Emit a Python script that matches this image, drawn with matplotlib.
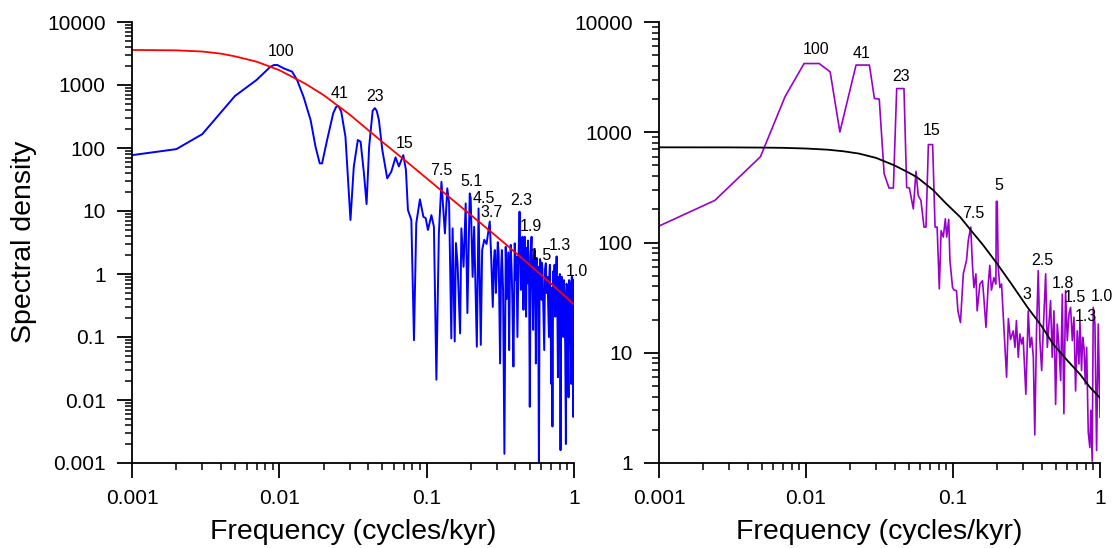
import matplotlib
matplotlib.use('Agg')
import matplotlib.pyplot as plt
from matplotlib.ticker import LogLocator, NullFormatter

plt.rcParams['font.family'] = ['Liberation Sans', 'DejaVu Sans']

# ******************************************************************************
# data
# ******************************************************************************
# left panel: spectrum (blue), low/mid part and noisy high-frequency part
blue_f_low = [0.001, 0.002, 0.003, 0.005, 0.007, 0.0087, 0.0092, 0.0097, 0.0107, 0.0122,
              0.0132, 0.0146, 0.0163, 0.0176, 0.0188, 0.0195, 0.0211, 0.0232, 0.0243, 0.0252,
              0.0263, 0.0281, 0.0293, 0.0304, 0.032, 0.0341, 0.0356, 0.0375, 0.0391, 0.0407,
              0.043, 0.0445, 0.0458, 0.0474, 0.05, 0.054, 0.0575, 0.0615, 0.0648, 0.0694,
              0.0723, 0.0746, 0.0787, 0.082, 0.085, 0.09, 0.095, 0.0985, 0.102, 0.1077,
              0.112, 0.1164, 0.121, 0.126, 0.133, 0.138, 0.142, 0.147, 0.150, 0.155,
              0.158, 0.162, 0.1686, 0.172, 0.178, 0.184, 0.189, 0.196, 0.199, 0.205,
              0.21, 0.219, 0.225, 0.233, 0.238, 0.246, 0.255, 0.268, 0.274]
blue_v_low = [77, 96, 166, 670, 1200, 1950, 2075, 2075, 1840, 1630,
              1200, 650, 278, 105, 57, 57, 134, 355, 450, 464,
              380, 151, 31, 7.2, 50, 134, 126, 40, 12.9, 105,
              390, 430, 390, 278, 93, 33, 42, 71, 51, 77,
              45, 10.4, 7.2, 0.089, 6.4, 15.3, 8.1, 7.7, 5.0, 8.6,
              5.6, 0.021, 4.4, 29, 4.4, 22.9, 13.2, 0.095, 5.3, 0.085,
              3.1, 1.48, 0.114, 5.3, 1.3, 13.2, 0.24, 19, 16, 0.9,
              5.6, 0.07, 11, 0.075, 2.4, 3.5, 3.0, 6.8, 1.9]

blue_f_high = [0.281, 0.286, 0.290, 0.295, 0.299, 0.304, 0.308, 0.315, 0.320, 0.324,
               0.330, 0.337, 0.344, 0.349, 0.353, 0.358, 0.363, 0.368, 0.372, 0.378,
               0.382, 0.388, 0.396, 0.402, 0.407, 0.413, 0.420, 0.427, 0.431, 0.436,
               0.441, 0.447, 0.454, 0.458, 0.463, 0.468, 0.473, 0.478, 0.483, 0.487,
               0.491, 0.496, 0.501, 0.508, 0.515, 0.521, 0.528, 0.534, 0.540, 0.546,
               0.551, 0.558, 0.565, 0.571, 0.578, 0.584, 0.590, 0.596, 0.602, 0.606,
               0.611, 0.619, 0.628, 0.636, 0.644, 0.652, 0.661, 0.668, 0.676, 0.681,
               0.686, 0.693, 0.700, 0.707, 0.714, 0.722, 0.730, 0.738, 0.746, 0.754,
               0.762, 0.770, 0.778, 0.786, 0.794, 0.802, 0.810, 0.818, 0.827, 0.836,
               0.845, 0.854, 0.863, 0.872, 0.881, 0.890, 0.899, 0.908, 0.918, 0.927,
               0.937, 0.947, 0.957, 0.965, 0.972, 0.980, 0.988, 0.994, 1.0]
blue_v_high = [0.30, 1.6, 2.4, 0.5, 1.3, 3.2, 2.1, 0.038, 1.2, 2.4,
               0.56, 0.0014, 2.7, 0.4, 0.9, 2.2, 0.062, 1.5, 2.9, 1.0,
               0.34, 0.034, 3.07, 0.8, 1.9, 0.1, 1.7, 9.75, 2.5, 0.56,
               2.0, 3.9, 0.27, 2.2, 3.9, 1.2, 0.21, 2.6, 0.71, 3.4,
               1.9, 0.6, 0.0078, 2.0, 3.9, 0.9, 0.13, 1.5, 2.4, 0.7,
               0.038, 1.8, 0.56, 1.3, 0.0006, 0.8, 1.67, 0.6, 0.39, 1.5,
               1.16, 0.3, 0.062, 1.2, 1.48, 0.5, 0.9, 0.3, 0.1, 1.0,
               1.4, 0.3, 0.018, 0.6, 0.0038, 1.1, 0.71, 1.4, 0.21, 0.8,
               1.9, 0.4, 0.023, 0.9, 0.165, 1.0, 0.0016, 0.5, 0.9, 0.2,
               0.1, 0.8, 0.49, 0.06, 0.002, 0.7, 0.63, 0.1, 0.011, 0.8,
               0.71, 0.2, 0.018, 0.9, 0.9, 0.3, 0.0054, 0.8, 0.3]

# left panel: red-noise fit
red_f = [0.001, 0.002, 0.003, 0.004, 0.005, 0.007, 0.01, 0.015, 0.02, 0.03,
         0.05, 0.07, 0.1, 0.15, 0.2, 0.3, 0.5, 0.7, 1.0]
red_v = [3600, 3550, 3400, 3150, 2850, 2350, 1720, 1050, 690, 340,
         125, 66, 33, 15, 8.6, 3.9, 1.4, 0.7, 0.33]

left_lab = ['100', '41', '23', '15', '7.5', '5.1', '4.5', '3.7', '2.3', '1.9', '1.5', '1.3', '1.0']
left_lab_f = [0.0102, 0.0257, 0.0443, 0.0708, 0.126, 0.201, 0.243, 0.275, 0.441, 0.51, 0.597, 0.807, 1.04]
left_lab_v = [3380, 738, 653, 118, 43.6, 29, 15.9, 9.4, 14.6, 5.6, 2.0, 2.8, 1.08]

# right panel: spectrum (purple) and fit (black)
purple_f = [0.001, 0.0024, 0.0049, 0.0072, 0.0097, 0.0123, 0.0146, 0.017, 0.0219, 0.027,
            0.0292, 0.0315, 0.034, 0.0367, 0.0393, 0.0414, 0.0464, 0.0484, 0.0505, 0.0537,
            0.056, 0.058, 0.0605, 0.0635, 0.0655, 0.068, 0.0727, 0.0755, 0.078, 0.0807,
            0.083, 0.0859, 0.0887, 0.0906, 0.0935, 0.0953, 0.0993, 0.1019, 0.1056, 0.108,
            0.1124, 0.1175, 0.1236, 0.127, 0.132, 0.1355, 0.1387, 0.1431, 0.146, 0.1524,
            0.1587, 0.162, 0.1676, 0.1737, 0.178, 0.1826, 0.1896, 0.1958, 0.197, 0.2,
            0.203, 0.2085, 0.214, 0.22, 0.227, 0.2315, 0.238, 0.246, 0.257, 0.264,
            0.27, 0.278, 0.285, 0.293, 0.3, 0.313, 0.325, 0.334, 0.343, 0.352,
            0.36, 0.37, 0.38, 0.39, 0.401, 0.411, 0.427, 0.438, 0.449, 0.461,
            0.473, 0.486, 0.499, 0.512, 0.526, 0.54, 0.554, 0.568, 0.583, 0.599,
            0.615, 0.631, 0.648, 0.665, 0.682, 0.7, 0.719, 0.73, 0.749, 0.762,
            0.778, 0.794, 0.811, 0.832, 0.853, 0.866, 0.885, 0.9, 0.924, 0.948,
            0.973, 1.0]
purple_v = [141, 241, 600, 2100, 4200, 4200, 3530, 1006, 4070, 4070,
            2025, 2000, 421, 312, 312, 2490, 2490, 316, 312, 202,
            442, 267, 241, 138, 138, 773, 773, 138, 138, 38,
            128, 112, 164, 112, 162, 69, 39, 37, 36.6, 24,
            18.8, 52, 69, 104, 138, 64, 39, 52, 24, 42,
            45, 32, 17, 42, 62, 37, 48, 42, 236, 236,
            60, 39, 42, 21, 9.7, 6.0, 20.4, 13.2, 15.8, 11.2,
            19.6, 9.1, 14.8, 12, 13.8, 4.2, 24, 11.2, 13.8, 9.1,
            1.8, 15.8, 55.6, 12.9, 6.9, 15.8, 52, 11.2, 18.2, 29.7,
            9.1, 24, 3.4, 18.2, 11.2, 5.6, 34, 2.8, 36.6, 12.9,
            22.5, 25.8, 12.9, 21, 4.5, 15.8, 7.9, 19.6, 6.9, 13.8,
            11.2, 5.2, 11.2, 1.9, 1.38, 3.0, 1.04, 25.8, 18.2, 1.3,
            18.2, 2.6]

black_f = [0.001, 0.003, 0.005, 0.007, 0.01, 0.014, 0.018, 0.023, 0.03, 0.04,
           0.05, 0.057, 0.073, 0.09, 0.112, 0.133, 0.16, 0.2, 0.25, 0.32,
           0.4, 0.48, 0.6, 0.73, 0.85, 1.0]
black_v = [730, 729, 726, 722, 712, 695, 672, 640, 585, 500,
           430, 390, 300, 225, 170, 128, 95, 64, 42, 26,
           17.5, 12, 8.5, 6.4, 4.9, 3.9]

right_lab = ['100', '41', '23', '15', '7.5', '5', '3', '2.5', '1.8', '1.5', '1.3', '1.0']
right_lab_f = [0.0117, 0.024, 0.044, 0.0716, 0.1377, 0.206, 0.32, 0.408, 0.563, 0.675, 0.80, 1.03]
right_lab_v = [5650, 5190, 3230, 1040, 182, 330, 33.7, 68.6, 42.2, 31.5, 21.5, 32.3]

# ******************************************************************************
# figure
# ******************************************************************************
W, H = 1113, 548
fig = plt.figure(figsize=(W/100, H/100), dpi=100)
ax1 = fig.add_axes([132/W, 1-463/H, 442/W, 441/H])
ax2 = fig.add_axes([659/W, 1-463/H, 441/W, 441/H])


def style_axis(ax, yticks):
    ax.set_xscale('log')
    ax.set_yscale('log')
    ax.set_xlim(0.001, 1)
    ax.set_ylim(yticks[0], yticks[-1])
    ax.spines['top'].set_visible(False)
    ax.spines['right'].set_visible(False)
    ax.spines['left'].set_linewidth(1.3)
    ax.spines['bottom'].set_linewidth(1.3)
    ax.set_xticks([0.001, 0.01, 0.1, 1])
    ax.set_xticklabels(['0.001', '0.01', '0.1', '1'])
    ax.set_yticks(yticks)
    ax.set_yticklabels([('%g' % t) if t < 1 else str(int(t)) for t in yticks])
    ax.xaxis.set_minor_locator(LogLocator(base=10, subs=range(2, 10), numticks=20))
    ax.yaxis.set_minor_locator(LogLocator(base=10, subs=range(2, 10), numticks=20))
    ax.xaxis.set_minor_formatter(NullFormatter())
    ax.yaxis.set_minor_formatter(NullFormatter())
    ax.tick_params(which='major', direction='out', length=11, width=1.3, labelsize=15)
    ax.tick_params(which='minor', direction='out', length=5, width=1.1)
    ax.tick_params(axis='x', which='major', pad=8)
    ax.tick_params(axis='y', which='major', pad=8)


style_axis(ax1, [0.001, 0.01, 0.1, 1, 10, 100, 1000, 10000])
style_axis(ax2, [1, 10, 100, 1000, 10000])

ax1.plot(blue_f_low + blue_f_high, blue_v_low + blue_v_high, color='#0000ff', lw=1.4)
ax1.plot(red_f, red_v, color='#ff0000', lw=1.3)
for s, f, v in zip(left_lab, left_lab_f, left_lab_v):
    ax1.text(f, v, s, ha='center', va='center', fontsize=11.5)

ax2.plot(purple_f, purple_v, color='#9900cc', lw=1.2)
ax2.plot(black_f, black_v, color='black', lw=1.3)
for s, f, v in zip(right_lab, right_lab_f, right_lab_v):
    ax2.text(f, v, s, ha='center', va='center', fontsize=11.5)

fig.text(24/W, 1-242/H, 'Spectral density', rotation=90, ha='center', va='center', fontsize=20.5)
fig.text(353/W, 1-532/H, 'Frequency (cycles/kyr)', ha='center', va='center', fontsize=20.5)
fig.text(879.5/W, 1-532/H, 'Frequency (cycles/kyr)', ha='center', va='center', fontsize=20.5)

fig.savefig('out.png', dpi=100)
